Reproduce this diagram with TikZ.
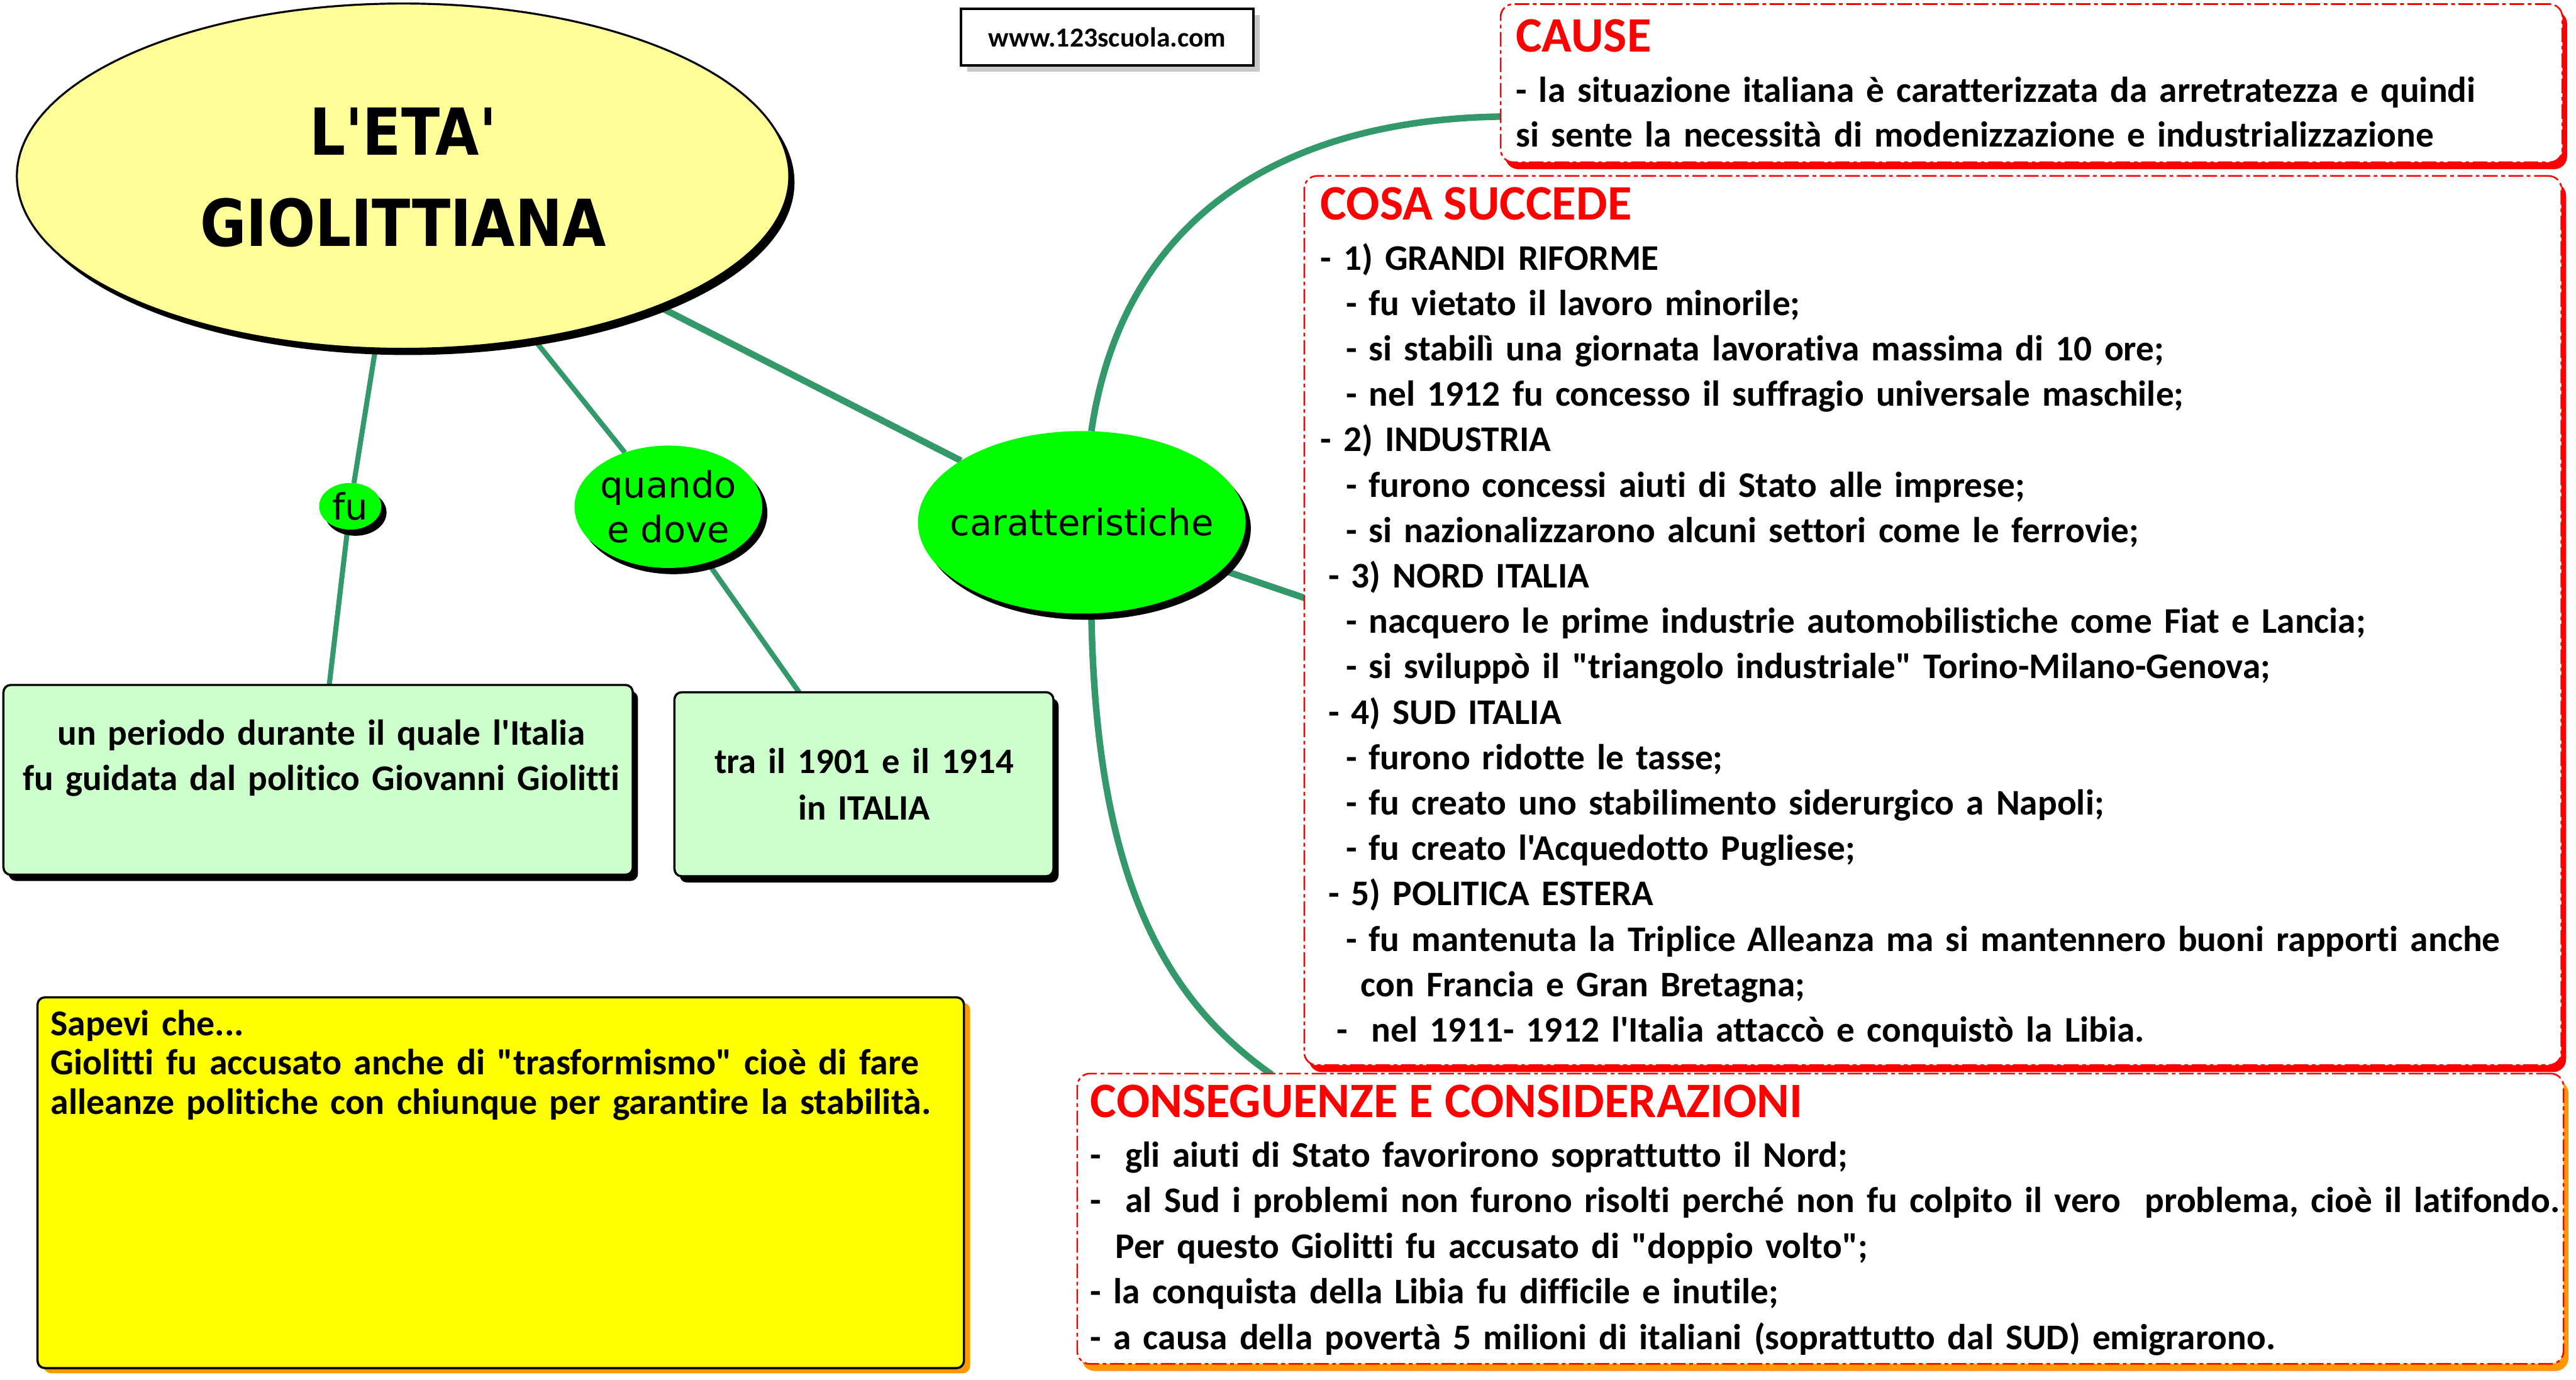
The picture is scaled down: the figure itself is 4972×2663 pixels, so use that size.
\documentclass[tikz,border=0pt]{standalone}
\usepackage{fontspec}
\setmainfont{Carlito}[Ligatures={TeXOff,NoCommon}]
\newfontfamily\vfont{DejaVu Sans}[Ligatures={TeXOff,NoCommon}]
\newfontfamily\titlefont{DejaVu Sans}[Ligatures={TeXOff,NoCommon},FakeStretch=0.87]
\usetikzlibrary{shapes.geometric,shadows,backgrounds}
\hyphenpenalty=10000
\exhyphenpenalty=10000
\definecolor{connc}{HTML}{33996B}
\definecolor{lightyel}{HTML}{FFFF99}
\definecolor{brightgreen}{HTML}{00FF00}
\definecolor{palegreen}{HTML}{CCFFCC}
\definecolor{orangesh}{HTML}{FF9900}
\definecolor{greysh}{HTML}{C8C8C8}
\definecolor{pureyellow}{HTML}{FFFF00}
\tikzset{
  conn/.style={draw=connc, line width=3.6pt},
  connthin/.style={draw=connc, line width=2.8pt},
  blacksh/.style={drop shadow={shadow xshift=2.85pt, shadow yshift=-3.4pt, fill=black, opacity=1}},
  mainell/.style={ellipse, draw=black, line width=1.1pt, fill=lightyel, inner sep=0pt, outer sep=0pt, blacksh},
  greenell/.style={ellipse, fill=brightgreen, inner sep=0pt, outer sep=0pt, blacksh},
  gbox/.style={rectangle, draw=black, line width=1.2pt, fill=palegreen, rounded corners=4pt, inner sep=0pt, outer sep=0pt, blacksh},
  redbox/.style={rectangle, draw=red, fill=white, line width=0.9pt, dash pattern=on 8pt off 2pt on 2pt off 2pt, rounded corners=7pt, inner sep=0pt, outer sep=0pt, drop shadow={shadow xshift=2.6pt, shadow yshift=-3.8pt, fill=red, opacity=1}},
  orbox/.style={redbox, drop shadow={shadow xshift=2.6pt, shadow yshift=-3.8pt, fill=orangesh, opacity=1}},
  ybox/.style={rectangle, draw=black, line width=1.2pt, fill=pureyellow, rounded corners=4pt, inner sep=0pt, outer sep=0pt, drop shadow={shadow xshift=3.4pt, shadow yshift=-2.85pt, fill=orangesh, opacity=1}},
  wwwbox/.style={rectangle, draw=black, line width=1.4pt, fill=white, inner sep=0pt, outer sep=0pt, font=\fontsize{15.1}{18}\selectfont\bfseries, drop shadow={shadow xshift=3.4pt, shadow yshift=-3.4pt, fill=greysh, opacity=1}},
  circtext/.style={inner sep=0pt, font=\vfont\fontsize{19.9}{24.47}\selectfont},
  redtitle/.style={inner sep=0pt, anchor=base west, text=red, font=\fontsize{27.2}{30}\selectfont\bfseries},
  txt/.style={inner sep=0pt, anchor=base west, align=left},
  ctxt/.style={inner sep=0pt, anchor=base, align=center}
}
\begin{document}
\begin{tikzpicture}[x=0.01cm,y=-0.01cm]
\useasboundingbox (0,0) rectangle (4972,2663);

% central ellipse
\node[mainell, minimum width=14.9cm, minimum height=6.66cm] (main) at (778,340) {};
\node[ctxt, text width=14cm, font=\titlefont\bfseries\fontsize{35.6}{50.08}\selectfont] (maint) at (778,299) {L'ETA'\\GIOLITTIANA};

% www box
\node[wwwbox, minimum width=5.64cm, minimum height=1.09cm] (www) at (2137,71.5) {www.123scuola.com};

% green ellipses
\node[greenell, minimum width=1.2cm, minimum height=0.9cm] (fu) at (676,977) {};
\node[circtext] (fut) at (fu.center) {fu};
\node[greenell, minimum width=3.62cm, minimum height=2.36cm] (q) at (1290,978) {};
\node[circtext, align=center] (qt) at (q.center) {quando\\e dove};
\node[greenell, minimum width=6.32cm, minimum height=3.52cm] (car) at (2088,1008) {};
\node[circtext] (cart) at (car.center) {caratteristiche};

% green boxes
\node[gbox, minimum width=12.14cm, minimum height=3.66cm] (b1) at (614,1505) {};
\node[ctxt, text width=12cm, font=\fontsize{19.8}{24.75}\selectfont\bfseries] (b1t) at (620,1438) {un periodo durante il quale l'Italia\\fu guidata dal politico Giovanni Giolitti};
\node[gbox, minimum width=7.31cm, minimum height=3.55cm] (b2) at (1667.5,1513.5) {};
\node[ctxt, text width=7cm, font=\fontsize{19.6}{25.32}\selectfont\bfseries] (b2t) at (1668,1493) {tra il 1901 e il 1914\\in ITALIA};

% yellow box
\node[ybox, minimum width=17.87cm, minimum height=7.15cm] (sap) at (966.5,2282.5) {};
\node[txt, text width=17.6cm, font=\fontsize{20.0}{21.62}\selectfont\bfseries] (sapt) at (97,1998) {Sapevi che...\\Giolitti fu accusato anche di "trasformismo" cioè di fare\\alleanze politiche con chiunque per garantire la stabilità.};

% CAUSE
\node[redbox, minimum width=20.48cm, minimum height=3.05cm] (cause) at (3921,160.5) {};
\node[redtitle] (causeh) at (2925,100) {CAUSE};
\node[txt, text width=20cm, font=\fontsize{19.8}{24.47}\selectfont\bfseries] (causet) at (2925,197) {- la situazione italiana è caratterizzata da arretratezza e quindi\\si sente la necessità di modenizzazione e industrializzazione};

% COSA SUCCEDE
\node[redbox, minimum width=24.25cm, minimum height=17.15cm] (cosa) at (3730.5,1197.5) {};
\node[redtitle] (cosah) at (2548,424) {COSA SUCCEDE};
\node[txt, text width=23.8cm, font=\fontsize{19.8}{24.92}\selectfont\bfseries] (cosat) at (2548,521) {%
- 1) GRANDI RIFORME\\
\hspace*{0.49cm}- fu vietato il lavoro minorile;\\
\hspace*{0.49cm}- si stabilì una giornata lavorativa massima di 10 ore;\\
\hspace*{0.49cm}- nel 1912 fu concesso il suffragio universale maschile;\\
- 2) INDUSTRIA\\
\hspace*{0.49cm}- furono concessi aiuti di Stato alle imprese;\\
\hspace*{0.49cm}- si nazionalizzarono alcuni settori come le ferrovie;\\
\hspace*{0.15cm}- 3) NORD ITALIA\\
\hspace*{0.49cm}- nacquero le prime industrie automobilistiche come Fiat e Lancia;\\
\hspace*{0.49cm}- si sviluppò il "triangolo industriale" Torino-Milano-Genova;\\
\hspace*{0.15cm}- 4) SUD ITALIA\\
\hspace*{0.49cm}- furono ridotte le tasse;\\
\hspace*{0.49cm}- fu creato uno stabilimento siderurgico a Napoli;\\
\hspace*{0.49cm}- fu creato l'Acquedotto Pugliese;\\
\hspace*{0.15cm}- 5) POLITICA ESTERA\\
\hspace*{0.49cm}- fu mantenuta la Triplice Alleanza ma si mantennero buoni rapporti anche\\
\hspace*{0.78cm}con Francia e Gran Bretagna;\\
\hspace*{0.31cm}-\ \ nel 1911- 1912 l'Italia attaccò e conquistò la Libia.};

% CONSEGUENZE
\node[orbox, minimum width=28.67cm, minimum height=5.6cm] (cons) at (3513.5,2352) {};
\node[redtitle] (consh) at (2104,2157) {CONSEGUENZE E CONSIDERAZIONI};
\node[txt, text width=30cm, font=\fontsize{19.8}{25.04}\selectfont\bfseries] (const) at (2104,2252) {%
-\ \ gli aiuti di Stato favorirono soprattutto il Nord;\\
-\ \ al Sud i problemi non furono risolti perché non fu colpito il vero\ \ problema, cioè il latifondo.\\
\hspace*{0.48cm}Per questo Giolitti fu accusato di "doppio volto";\\
- la conquista della Libia fu difficile e inutile;\\
- a causa della povertà 5 milioni di italiani (soprattutto dal SUD) emigrarono.};

% connector end points
\coordinate (causeL) at (2899,225);
\coordinate (cosaL) at (2521,1155);
\coordinate (consT) at (2455,2074);

\begin{pgfonlayer}{background}
\draw[connthin] (main) -- (fu);
\draw[connthin] (fu) -- (b1);
\draw[connthin] (main) -- (q);
\draw[connthin] (q) -- (b2);
\draw[conn] (main) -- (car);
\draw[conn] (car.84) .. controls (2170,400) and (2500,230) .. (causeL);
\draw[conn] (car) -- (cosaL);
\draw[conn] (car.276) .. controls (2115,1700) and (2250,1930) .. (consT);
\end{pgfonlayer}
\end{tikzpicture}
\end{document}
